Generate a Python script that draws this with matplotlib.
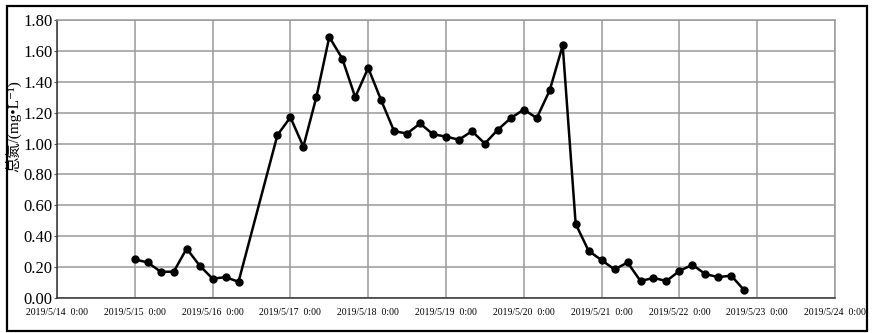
import datetime as dt
import matplotlib
matplotlib.use("Agg")
import matplotlib.pyplot as plt
from matplotlib.patches import Rectangle

# sampling every 4 hours
start_a = dt.datetime(2019, 5, 15, 0)
vals_a = [0.25, 0.23, 0.17, 0.17, 0.32, 0.21, 0.125, 0.135, 0.105]
start_b = dt.datetime(2019, 5, 16, 20)
vals_b = [1.055, 1.17, 0.98, 1.30, 1.69, 1.55, 1.30, 1.49, 1.28, 1.08,
          1.065, 1.13, 1.06, 1.045, 1.025, 1.08, 1.00, 1.09, 1.165, 1.22,
          1.165, 1.345, 1.635, 0.48, 0.305, 0.245, 0.185, 0.23, 0.11,
          0.13, 0.11, 0.175, 0.215, 0.155, 0.135, 0.145, 0.05]

times = [start_a + dt.timedelta(hours=4 * i) for i in range(len(vals_a))]
times += [start_b + dt.timedelta(hours=4 * i) for i in range(len(vals_b))]
values = vals_a + vals_b

day_ticks = [dt.datetime(2019, 5, d) for d in range(14, 25)]
day_labels = [f"2019/5/{d}  0:00" for d in range(14, 25)]
y_ticks = [0.0, 0.2, 0.4, 0.6, 0.8, 1.0, 1.2, 1.4, 1.6, 1.8]

plt.rcParams["font.family"] = ["Liberation Serif", "Noto Sans CJK SC", "DejaVu Sans"]

fig = plt.figure(figsize=(8.73, 3.33), dpi=100)
ax = fig.add_axes([57 / 873, 1 - 298 / 333, (835 - 57) / 873, (298 - 20) / 333])

ax.plot(times, values, color="black", lw=1.8, marker="o", ms=5, zorder=3)

ax.set_xlim(day_ticks[0], day_ticks[-1])
ax.set_ylim(0, 1.8)
ax.set_xticks(day_ticks)
ax.set_xticklabels(day_labels, fontsize=7)
ax.set_yticks(y_ticks)
ax.set_yticklabels([f"{v:.2f}" for v in y_ticks], fontsize=12)
ax.tick_params(axis="x", length=0, pad=7)
ax.tick_params(axis="y", length=2, width=0.8, pad=1, color="#555555")

ax.grid(True, color="#9a9a9a", lw=1.1)
ax.set_axisbelow(True)
for s in ["top", "right"]:
    ax.spines[s].set_color("#9a9a9a")
    ax.spines[s].set_linewidth(1.1)
for s in ["left", "bottom"]:
    ax.spines[s].set_color("#333333")
    ax.spines[s].set_linewidth(1.1)

ylab = ax.set_ylabel("总氮/(mg•L⁻¹)", fontsize=11)
ylab.set_va("center")
ax.yaxis.set_label_coords(-0.056, 0.62)

fig.patches.append(Rectangle((7 / 873, 2 / 333), 860 / 873, 325 / 333,
                             transform=fig.transFigure, fill=False,
                             edgecolor="black", lw=1.6))

fig.savefig("out.png", dpi=100)
